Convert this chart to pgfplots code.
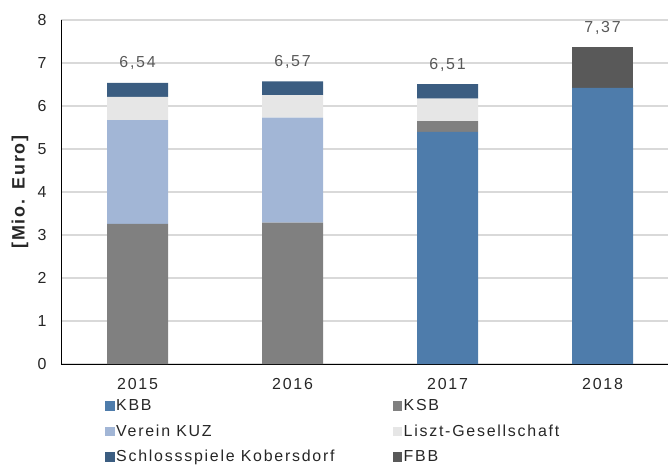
\documentclass[border=0pt]{standalone}
\usepackage{fontspec}
\setmainfont[LetterSpace=11]{Liberation Sans}
\usepackage{pgfplots}
\pgfplotsset{compat=1.18}
\definecolor{cKBB}{HTML}{4E7CAB}
\definecolor{cKSB}{HTML}{808080}
\definecolor{cKUZ}{HTML}{A2B6D6}
\definecolor{cLiszt}{HTML}{E6E6E6}
\definecolor{cSchloss}{HTML}{3B5D81}
\definecolor{cFBB}{HTML}{595959}
\definecolor{cGrid}{HTML}{D9D9D9}
\definecolor{cText}{HTML}{262626}
\definecolor{cLab}{HTML}{595959}
\begin{document}
\begin{tikzpicture}
\useasboundingbox (-61bp,-101bp) rectangle (607bp,364bp);
\begin{axis}[
  at={(0,0)}, anchor=south west,
  scale only axis, width=607bp, height=344bp,
  font=\fontsize{16}{18}\selectfont,
  ybar stacked, bar width=0.394,
  xmin=-0.494, xmax=3.422, ymin=0, ymax=8,
  xtick={0,1,2,3}, xticklabels={2015,2016,2017,2018},
  ytick={0,1,...,8},
  axis x line=bottom, axis y line=left,
  axis line style={-},
  x axis line style={draw=black, line width=1bp},
  y axis line style={draw=black, line width=1bp},
  ymajorgrids, grid style={draw=cGrid, line width=1.2bp},
  major tick length=0pt, tick style={draw=none},
  ticklabel style={text=cText, /pgf/number format/assume math mode=true},
  yticklabel style={xshift=-11bp},
  xticklabel style={yshift=-11bp},
  ylabel={\fontsize{18}{20}\selectfont\bfseries [Mio. Euro]},
  ylabel style={at={(axis description cs:-0.0675,0.5)}, anchor=center, text=cText},
  legend columns=2,
  legend cell align=left,
  legend image code/.code={\fill[#1] (0bp,-4.5bp) rectangle (9.5bp,5bp);},
  legend style={at={(axis description cs:0.0725,-0.096)}, anchor=north west,
    draw=none, fill=none, inner sep=0pt, row sep=7bp, column sep=0pt,
    nodes={inner sep=1.5bp, text=cText, text height=12bp, text depth=3.5bp}},
  nodes near coords style={anchor=base, text=cLab, inner sep=0pt, font=\fontsize{16}{18}\selectfont},
]
\addplot[fill=cKBB, draw=none] coordinates {(0,0) (1,0) (2,5.40) (3,6.42)};
\addlegendentry{\makebox[275bp][l]{KBB}}
\addplot[fill=cKSB, draw=none] coordinates {(0,3.26) (1,3.29) (2,0.25) (3,0)};
\addlegendentry{KSB}
\addplot[fill=cKUZ, draw=none] coordinates {(0,2.41) (1,2.44) (2,0) (3,0)};
\addlegendentry{\makebox[275bp][l]{Verein KUZ}}
\addplot[fill=cLiszt, draw=none] coordinates {(0,0.54) (1,0.52) (2,0.52) (3,0)};
\addlegendentry{Liszt-Gesellschaft}
\addplot[fill=cSchloss, draw=none, nodes near coords, point meta=explicit symbolic,
  every node near coord/.append style={yshift=22bp}]
  table[x=x, y=y, meta=label] {
x y label
0 0.33 6,54
1 0.32 6,57
2 0.34 6,51
3 0 {}
};
\addlegendentry{\makebox[275bp][l]{Schlossspiele Kobersdorf}}
\addplot[fill=cFBB, draw=none, nodes near coords, point meta=explicit symbolic,
  every node near coord/.append style={yshift=35.5bp}]
  table[x=x, y=y, meta=label] {
x y label
0 0 {}
1 0 {}
2 0 {}
3 0.95 7,37
};
\addlegendentry{FBB}
\end{axis}
\end{tikzpicture}
\end{document}
